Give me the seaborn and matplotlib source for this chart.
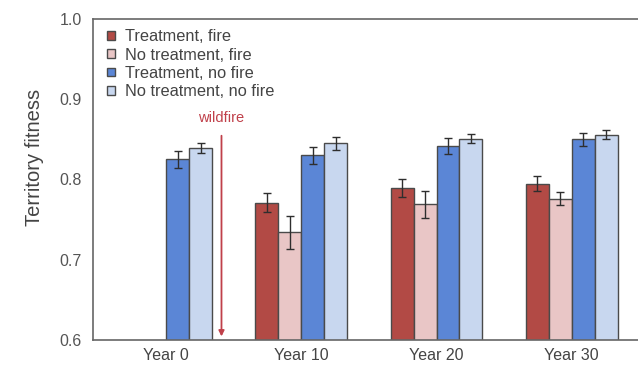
import matplotlib
matplotlib.use("Agg")
import matplotlib.pyplot as plt
import seaborn as sns
import pandas as pd
import numpy as np

# Mean territory fitness per scenario and year, with standard errors
years = ["Year 0", "Year 10", "Year 20", "Year 30"]
conditions = ["Treatment, fire", "No treatment, fire",
              "Treatment, no fire", "No treatment, no fire"]

treat_fire = [np.nan, 0.771, 0.789, 0.795]
notreat_fire = [np.nan, 0.734, 0.769, 0.776]
treat_nofire = [0.825, 0.830, 0.842, 0.850]
notreat_nofire = [0.839, 0.845, 0.851, 0.856]

treat_fire_err = [np.nan, 0.012, 0.011, 0.009]
notreat_fire_err = [np.nan, 0.020, 0.017, 0.008]
treat_nofire_err = [0.011, 0.011, 0.010, 0.008]
notreat_nofire_err = [0.006, 0.008, 0.006, 0.006]

colors = ["#b24a45", "#e9c6c6", "#5b86d6", "#c8d7ef"]

means = [treat_fire, notreat_fire, treat_nofire, notreat_nofire]
errs = [treat_fire_err, notreat_fire_err, treat_nofire_err, notreat_nofire_err]

rows = []
for cond, m, e in zip(conditions, means, errs):
    for yr, v, s in zip(years, m, e):
        if not np.isnan(v):
            rows.append({"year": yr, "condition": cond, "fitness": v, "se": s})
df = pd.DataFrame(rows)

sns.set_theme(style="white")
plt.rcParams["font.family"] = ["Liberation Sans", "DejaVu Sans"]

fig = plt.figure(figsize=(6.38, 3.72), dpi=100)
ax = fig.add_axes([0.1458, 0.086, 0.8542, 0.863])

sns.barplot(data=df, x="year", y="fitness", hue="condition",
            order=years, hue_order=conditions, palette=colors,
            saturation=1, width=0.68, edgecolor="#4a4a4a", linewidth=1.0,
            errorbar=None, ax=ax, legend=True)

# Error bars placed on each drawn bar
for cond, container in zip(conditions, ax.containers):
    sub = df[df["condition"] == cond].set_index("year").reindex(years).dropna()
    for bar, (_, r) in zip(container, sub.iterrows()):
        cx = bar.get_x() + bar.get_width() / 2
        ax.errorbar(cx, r["fitness"], yerr=r["se"], fmt="none",
                    ecolor="#2e2e2e", elinewidth=1.0, capsize=3,
                    capthick=1.0, zorder=5)

ax.set_ylim(0.6, 1.0)
ax.set_xlim(-0.54, 3.49)
ax.set_yticks([0.6, 0.7, 0.8, 0.9, 1.0])
ax.set_yticklabels(["0.6", "0.7", "0.8", "0.9", "1.0"])
ax.set_xlabel("")
ax.set_ylabel("Territory fitness", fontsize=14.5, color="#444444", labelpad=9)
ax.yaxis.set_label_coords(-0.09, 0.57)
ax.tick_params(axis="y", direction="in", length=3, width=1,
               color="#555555", labelsize=11.5, labelcolor="#555555", pad=8)
ax.tick_params(axis="x", length=0, labelsize=11.5, labelcolor="#444444", pad=6)

for side in ["left", "bottom", "top"]:
    ax.spines[side].set_color("#666666")
    ax.spines[side].set_linewidth(1.2)
ax.spines["right"].set_visible(False)

# Wildfire marker between Year 0 and Year 10
ax.annotate("", xy=(0.41, 0.601), xytext=(0.41, 0.858),
            arrowprops=dict(arrowstyle="-|>", color="#c0404a", lw=1.3,
                            mutation_scale=8))
ax.text(0.41, 0.877, "wildfire", color="#c0404a", fontsize=10.5,
        ha="center", va="center")

leg = ax.legend(loc="upper left", bbox_to_anchor=(0.004, 1.006), frameon=False,
                fontsize=11.8, handlelength=0.45, handleheight=0.45,
                handletextpad=0.6, labelspacing=0.2, borderaxespad=0.45,
                borderpad=0.3, labelcolor="#444444")

fig.savefig("out.png", dpi=100)
